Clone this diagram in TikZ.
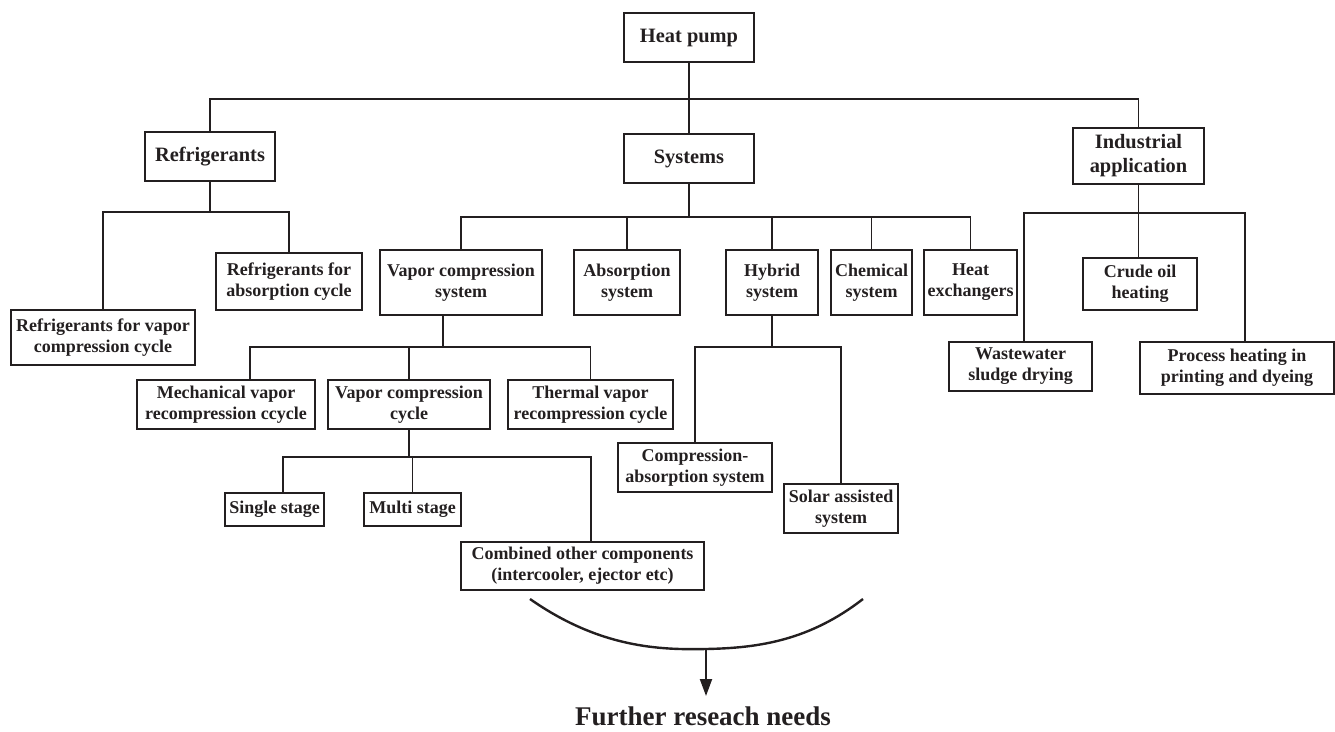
\documentclass[tikz,border=0pt]{standalone}
\usepackage{fontspec}
\setmainfont{Liberation Serif}
\usetikzlibrary{arrows.meta}
\definecolor{ink}{RGB}{35,31,32}
\begin{document}
\begin{tikzpicture}[x=1pt,y=-1pt,
  box/.style={draw=ink, text=ink, line width=1.6pt, align=center, inner sep=0pt,
    font=\fontsize{18}{21}\selectfont\bfseries},
  topbox/.style={box, font=\fontsize{20.4}{24}\selectfont\bfseries},
  link/.style={draw=ink, line width=1.3pt}]
\useasboundingbox (0,0) rectangle (1335,731);
% level 0/1
\node[topbox, minimum width=130pt, minimum height=49pt] (hp) at (689,37.5) {Heat pump};
\node[topbox, minimum width=130pt, minimum height=49pt] (ref) at (210,156.5) {Refrigerants};
\node[topbox, minimum width=130pt, minimum height=49pt] (sys) at (689,158.5) {Systems};
\node[topbox, minimum width=131pt, minimum height=56pt] (ind) at (1138.5,156) {Industrial\\application};
% refrigerants children
\node[box, minimum width=146pt, minimum height=57pt] (rabs) at (289,281.5) {Refrigerants for\\absorption cycle};
\node[box, minimum width=184pt, minimum height=55pt] (rvap) at (103,337.5) {Refrigerants for vapor\\compression cycle};
% systems children
\node[box, minimum width=162pt, minimum height=65pt] (vcs) at (461,282.5) {Vapor compression\\system};
\node[box, minimum width=106pt, minimum height=65pt] (abs) at (627,282.5) {Absorption\\system};
\node[box, minimum width=92pt, minimum height=65pt] (hyb) at (772,282.5) {Hybrid\\system};
\node[box, minimum width=81pt, minimum height=65pt] (chem) at (871.5,282.5) {Chemical\\system};
\node[box, minimum width=93pt, minimum height=65pt] (hx) at (970.5,282.5) {Heat\\exchangers};
% industrial children
\node[box, minimum width=114pt, minimum height=52pt] (crude) at (1140,284) {Crude oil\\heating};
\node[box, minimum width=143pt, minimum height=49pt] (ww) at (1020.5,366.5) {Wastewater\\sludge drying};
\node[box, minimum width=194pt, minimum height=52pt] (proc) at (1237,368) {Process heating in\\printing and dyeing};
% vapor compression system children
\node[box, minimum width=178pt, minimum height=49pt] (mech) at (226,404.5) {Mechanical vapor\\recompression ccycle};
\node[box, minimum width=162pt, minimum height=49pt] (vcc) at (409,404.5) {Vapor compression\\cycle};
\node[box, minimum width=165pt, minimum height=49pt] (therm) at (590.5,404.5) {Thermal vapor\\recompression cycle};
% hybrid children
\node[box, minimum width=154pt, minimum height=49pt] (cas) at (695,467.5) {Compression-\\absorption system};
\node[box, minimum width=114pt, minimum height=49pt] (solar) at (841,508.5) {Solar assisted\\system};
% vapor compression cycle children
\node[box, minimum width=99pt, minimum height=33pt] (single) at (274.5,509.5) {Single stage};
\node[box, minimum width=97pt, minimum height=33pt] (multi) at (412.5,509.5) {Multi stage};
\node[box, minimum width=243pt, minimum height=48pt] (comb) at (582.5,566) {Combined other components\\(intercooler, ejector etc)};
% result
\node[text=ink, font=\fontsize{27}{30}\selectfont\bfseries, anchor=base, inner sep=0pt] (fur) at (703,725) {Further reseach needs};
% bus coordinates
\coordinate (b1) at (689,99);
\coordinate (b2) at (210,212);
\coordinate (b3) at (689,217);
\coordinate (b4) at (1138.5,213);
\coordinate (b5) at (443,347);
\coordinate (b6) at (772,347);
\coordinate (b7) at (409,457);
% connectors
\path[link] (hp.south) -- (sys.north);
\path[link] (ref.north) |- (b1) -| (ind.north);
\path[link] (ref.south) -- (b2);
\path[link] (rvap.north) |- (b2) -| (rabs.north);
\path[link] (sys.south) -- (b3);
\path[link] (vcs.north) |- (b3) -| (hx.north);
\path[link] (b3 -| abs.north) -- (abs.north);
\path[link] (b3 -| hyb.north) -- (hyb.north);
\path[link] (b3 -| chem.north) -- (chem.north);
\path[link] (ind.south) -- (ind.south |- crude.north);
\path[link] ([xshift=3.5pt]ww.north) |- (b4) -| ([xshift=8pt]proc.north);
\path[link] ([xshift=-18pt]vcs.south) -- (b5);
\path[link] ([xshift=24pt]mech.north) |- (b5) -| (therm.north);
\path[link] (b5 -| vcc.north) -- (vcc.north);
\path[link] (hyb.south) -- (b6);
\path[link] (cas.north) |- (b6) -| (solar.north);
\path[link] (vcc.south) -- (b7);
\path[link] ([xshift=8.5pt]single.north) |- (b7) -| ([xshift=8.5pt]comb.north);
\path[link] (b7 -| multi.north) -- (multi.north);
% arc and arrow
\coordinate (arcL) at (530,599);
\coordinate (arcR) at (863,599);
\coordinate (arcB) at (706,649);
\coordinate (arrE) at (706,696);
\draw[ink, line width=2.4pt] (arcL) .. controls (600,648) and (660,650) .. (arcB)
   .. controls (760,648) and (810,640) .. (arcR);
\draw[ink, line width=2pt, -{Triangle[length=17pt,width=12pt]}] (arcB) -- (arrE);
\end{tikzpicture}
\end{document}
